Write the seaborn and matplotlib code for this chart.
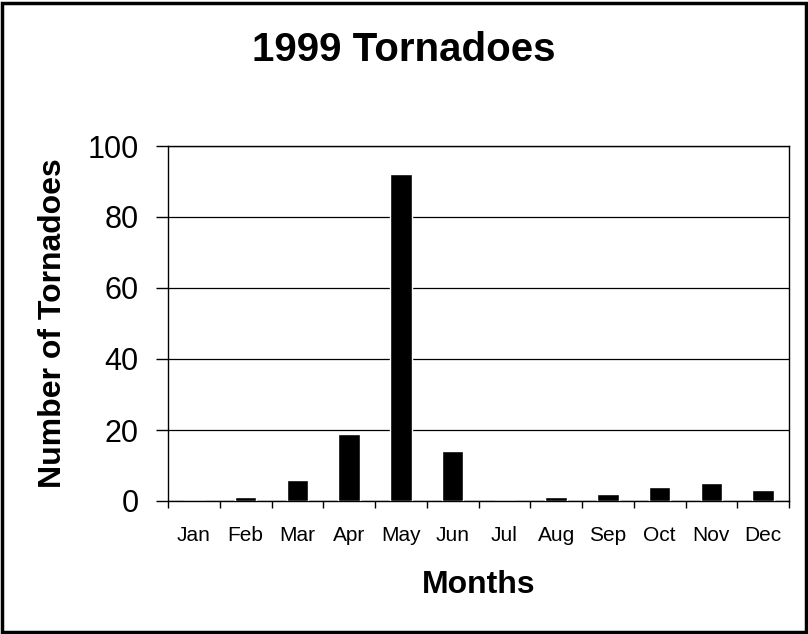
import matplotlib
matplotlib.use("Agg")
import matplotlib.pyplot as plt
import seaborn as sns
import pandas as pd
import numpy as np
from matplotlib.patches import Rectangle

months = ["Jan", "Feb", "Mar", "Apr", "May", "Jun",
          "Jul", "Aug", "Sep", "Oct", "Nov", "Dec"]
tornadoes = [0, 1, 6, 19, 92, 14, 0, 1, 2, 4, 5, 3]
y_ticks = [0, 20, 40, 60, 80, 100]

df = pd.DataFrame({"month": months, "count": tornadoes})

sns.set_style("white")
plt.rcParams["font.family"] = ["Liberation Sans", "DejaVu Sans"]
plt.rcParams["text.color"] = "black"
plt.rcParams["axes.labelcolor"] = "black"
plt.rcParams["xtick.color"] = "black"
plt.rcParams["ytick.color"] = "black"

fig = plt.figure(figsize=(8.08, 6.34), dpi=100)
ax = fig.add_axes([168 / 808, 1 - 501 / 634, (789 - 168) / 808, (501 - 146) / 634])

sns.barplot(data=df, x="month", y="count", color="black", width=0.42,
            saturation=1, ax=ax, zorder=3)

ax.set_ylim(0, 100)
ax.set_xlim(-0.5, 11.5)
ax.set_yticks(y_ticks)
ax.yaxis.grid(True, color="black", linewidth=0.9, zorder=0)
ax.xaxis.grid(False)

# tick marks between categories, labels centred
ax.set_xticks(np.arange(-0.5, 12, 1), minor=True)
ax.tick_params(axis="x", which="major", length=0, pad=18, labelsize=15)
ax.tick_params(axis="x", which="minor", length=5, width=1, color="black", direction="out")
ax.tick_params(axis="y", which="major", length=9, width=1, color="black",
               direction="out", pad=12, labelsize=22)
ax.tick_params(left=True, bottom=True, which="both")

for s in ax.spines.values():
    s.set_color("black")
    s.set_linewidth(1)

ax.set_xlabel("Months", fontsize=23, fontweight="bold", labelpad=18)
ax.set_ylabel("Number of Tornadoes", fontsize=23, fontweight="bold", labelpad=14)

fig.text(0.5, 1 - 50 / 634, "1999 Tornadoes", ha="center", va="center",
         fontsize=29, fontweight="bold")

fig.patches.append(Rectangle((0.002, 0.003), 0.995, 0.993, transform=fig.transFigure,
                             fill=False, edgecolor="black", linewidth=2.5))

fig.savefig("out.png", dpi=100)
